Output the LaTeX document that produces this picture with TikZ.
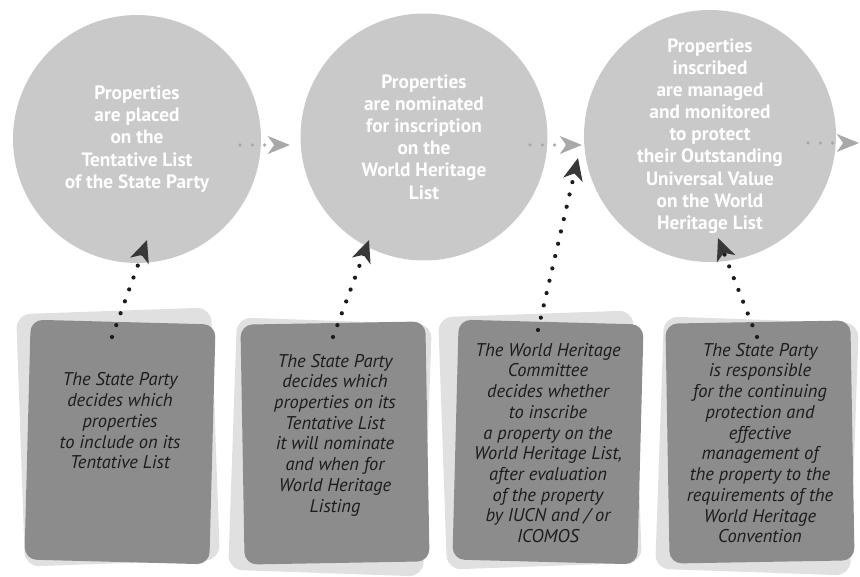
\documentclass[tikz,border=0pt]{standalone}
\usepackage{fontspec}
\setmainfont{PT Sans}
\usetikzlibrary{arrows.meta}
\definecolor{disc}{HTML}{C9C9C9}
\definecolor{card}{HTML}{8C8C8C}
\definecolor{cardpale}{HTML}{E0E0E0}
\definecolor{ink}{HTML}{1C1C1C}
\definecolor{dotgray}{HTML}{A8A8A8}
\definecolor{tipdark}{HTML}{383838}

\begin{document}
\begin{tikzpicture}[x=0.02cm, y=-0.02cm,
  stage/.style={circle, fill=disc, inner sep=0pt, text=white, align=center,
    font=\fontsize{11}{12.6}\selectfont\bfseries},
  backcard/.style={rounded corners=8pt, fill=cardpale, minimum width=3.9cm, minimum height=5.05cm},
  frontcard/.style={rounded corners=7pt, fill=card, minimum width=3.7cm, minimum height=4.8cm},
  cardtext/.style={align=center, text=ink, font=\fontsize{10.5}{11.8}\selectfont\itshape},
  flow/.style={draw=dotgray, line width=2pt, line cap=round, dash pattern=on 0pt off 7pt,
    -{Stealth[length=12.5pt, width=10pt, inset=3.5pt, color=dotgray]}},
  decide/.style={draw=ink, line width=2.4pt, line cap=round, dash pattern=on 0pt off 7.2pt,
    -{Stealth[length=12.5pt, width=11pt, inset=3.5pt, color=tipdark]}}]
\useasboundingbox (0,0) rectangle (860,577);

% the three stages
\node[stage, minimum size=4.96cm] (p1) at (137,139)
  {Properties\\are placed\\on the\\Tentative List\\of the State Party};
\node[stage, minimum size=4.94cm] (p2) at (424,137)
  {Properties\\are nominated\\for inscription\\on the\\World Heritage\\List};
\node[stage, minimum size=5.04cm] (p3) at (710,136)
  {Properties\\inscribed\\are managed\\and monitored\\to protect\\their Outstanding\\Universal Value\\on the World\\Heritage List};

% cards underneath
\node[backcard, rotate=2] (b1) at (118,437) {};
\node[backcard, rotate=-2] (b2) at (330,447) {};
\node[backcard, rotate=2] (b3) at (540,440) {};
\node[backcard, rotate=-2] (b4) at (757,446) {};
\node[frontcard, rotate=-1.5] (d1) at (120,442) {};
\node[frontcard, rotate=1] (d2) at (335,443) {};
\node[frontcard, rotate=-1.5] (d3) at (548,442) {};
\node[frontcard, rotate=1] (d4) at (760,442) {};

\node[cardtext] (n1) at (120,421)
  {The State Party\\decides which\\properties\\to include on its\\Tentative List};
\node[cardtext] (n2) at (335,435)
  {The State Party\\decides which\\properties on its\\Tentative List\\it will nominate\\and when for\\World Heritage\\Listing};
\node[cardtext] (n3) at (548,443)
  {The World Heritage\\Committee\\decides whether\\to inscribe\\a property on the\\World Heritage List,\\after evaluation\\of the property\\by IUCN and / or\\ICOMOS};
\node[cardtext] (n4) at (760,443)
  {The State Party\\is responsible\\for the continuing\\protection and\\effective\\management of\\the property to the\\requirements of the\\World Heritage\\Convention};

% arrow ends
\coordinate (h1a) at (240,145); \coordinate (h1b) at (290,145);
\coordinate (h2a) at (530,145); \coordinate (h2b) at (582,145);
\coordinate (h3a) at (808,143); \coordinate (h3b) at (859,143);
\coordinate (v1a) at (112,337); \coordinate (v1b) at (147,240);
\coordinate (v2a) at (333,337); \coordinate (v2b) at (369,240);
\coordinate (v3a) at (538,330); \coordinate (v3b) at (578,158);
\coordinate (v4a) at (757,337); \coordinate (v4b) at (718,238);

\draw[flow] (h1a) -- (h1b);
\draw[flow] (h2a) -- (h2b);
\draw[flow] (h3a) -- (h3b);
\draw[decide] (v1a) -- (v1b);
\draw[decide] (v2a) -- (v2b);
\draw[decide] (v3a) -- (v3b);
\draw[decide] (v4a) -- (v4b);
\end{tikzpicture}
\end{document}
